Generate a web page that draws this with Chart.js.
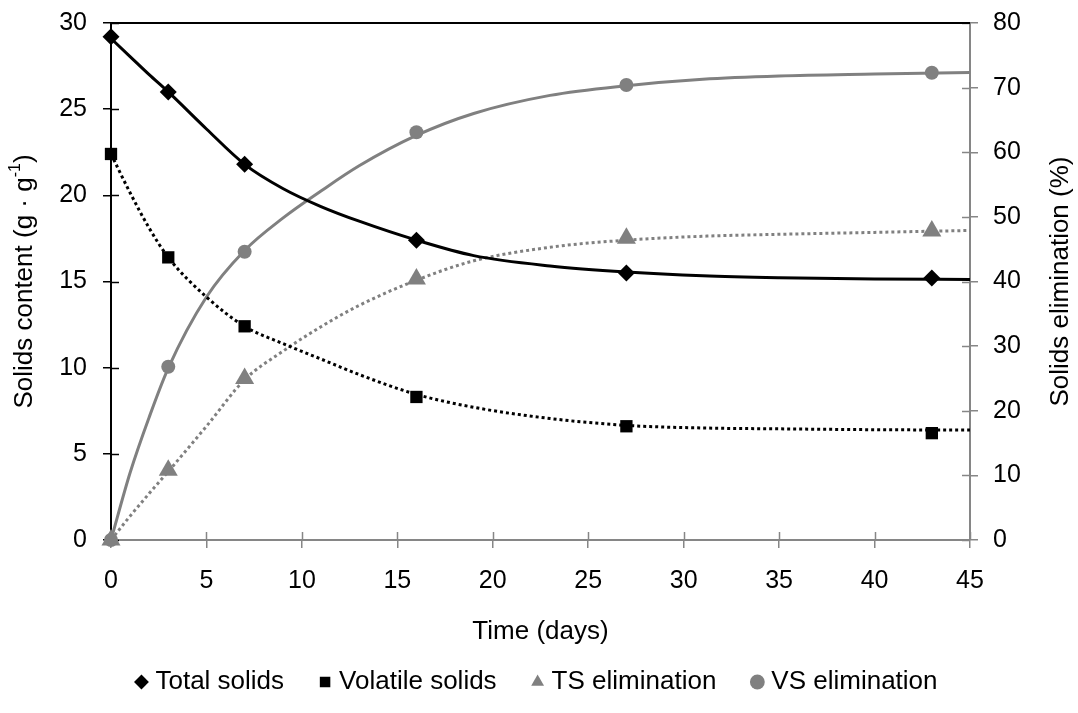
<!DOCTYPE html>
<html>
<head>
<meta charset="utf-8">
<script src="https://cdn.jsdelivr.net/npm/chart.js@4.4.1/dist/chart.umd.min.js"></script>
<style>
  html, body { margin: 0; padding: 0; background: #ffffff; }
  #wrap { width: 1078px; height: 713px; position: relative; }
</style>
</head>
<body>
<div id="wrap"><canvas id="chart" width="1078" height="713"></canvas></div>
<script>
// Measured samples
const days = [0, 3, 7, 16, 27, 43];
const totalSolids = [29.2, 26.0, 21.8, 17.4, 15.5, 15.2];
const volatileSolids = [22.4, 16.4, 12.4, 8.3, 6.6, 6.2];
const tsElimination = [0, 10.8, 25.0, 40.4, 46.7, 47.8];
const vsElimination = [0, 26.8, 44.6, 63.1, 70.4, 72.3];

// Fitted curves, sampled along the time axis
const fitDays = [0, 1, 2, 3, 5, 7, 9, 11, 13, 16, 19, 23, 27, 31, 35, 40, 45];
const totalSolidsFit = [29.1, 28.05, 27.0, 26.0, 23.85, 21.8, 20.4, 19.35, 18.5, 17.4, 16.5, 15.9, 15.55, 15.33, 15.22, 15.15, 15.12];
const volatileSolidsFit = [22.4, 20.15, 18.1, 16.4, 14.1, 12.4, 11.4, 10.5, 9.6, 8.45, 7.7, 7.05, 6.65, 6.5, 6.45, 6.4, 6.38];
const tsEliminationFit = [0, 3.7, 7.2, 10.6, 17.6, 24.8, 29.2, 33.0, 36.3, 40.2, 43.2, 45.3, 46.4, 47.0, 47.3, 47.6, 47.9];
const vsEliminationFit = [0, 10.4, 19.0, 26.6, 37.6, 44.8, 49.8, 54.0, 57.9, 62.6, 66.0, 68.8, 70.3, 71.3, 71.8, 72.1, 72.35];

const seriesNames = ['Total solids', 'Volatile solids', 'TS elimination', 'VS elimination'];
const xTitle = 'Time (days)';
const leftTitle = ['Solids content (g \u00B7 g', '-1', ')'];
const rightTitle = 'Solids elimination (%)';

const BLACK = '#000000';
const GRAY = '#808080';
const AXIS_GRAY = '#868686';
const FONT = "'Liberation Sans', Arial, Helvetica, sans-serif";
const TICK_SIZE = 25;
const TITLE_SIZE = 26;

function pairs(xs, ys) {
  return xs.map((x, i) => ({ x: x, y: ys[i] }));
}

// Tick marks that cross the axis line into the plot, plus the top frame line
const crossTicks = {
  id: 'crossTicks',
  beforeDatasetsDraw(chart) {
    const { ctx, chartArea: a, scales } = chart;
    const len = 8;
    ctx.save();
    ctx.lineWidth = 1.5;
    ctx.strokeStyle = AXIS_GRAY;
    scales.x.ticks.forEach(t => {
      const px = Math.round(scales.x.getPixelForValue(t.value)) + 0.5;
      ctx.beginPath(); ctx.moveTo(px, a.bottom); ctx.lineTo(px, a.bottom - len); ctx.stroke();
    });
    scales.y1.ticks.forEach(t => {
      const py = Math.round(scales.y1.getPixelForValue(t.value)) + 0.5;
      ctx.beginPath(); ctx.moveTo(a.right, py); ctx.lineTo(a.right - len, py); ctx.stroke();
    });
    ctx.strokeStyle = BLACK;
    scales.y.ticks.forEach(t => {
      const py = Math.round(scales.y.getPixelForValue(t.value)) + 0.5;
      ctx.beginPath(); ctx.moveTo(a.left, py); ctx.lineTo(a.left + len, py); ctx.stroke();
    });
    ctx.lineWidth = 2;
    ctx.beginPath(); ctx.moveTo(a.left, a.top); ctx.lineTo(a.right, a.top); ctx.stroke();
    ctx.restore();
  }
};

// Axis titles: horizontal one below the x ticks, vertical ones reading bottom to top
const axisTitles = {
  id: 'axisTitles',
  afterDraw(chart) {
    const { ctx, chartArea: a } = chart;
    const cy = (a.top + a.bottom) / 2;
    const big = TITLE_SIZE + 'px ' + FONT;
    const small = '16px ' + FONT;
    ctx.save();
    ctx.fillStyle = BLACK;
    ctx.textBaseline = 'middle';

    // x title
    ctx.font = big;
    ctx.textAlign = 'center';
    ctx.fillText(xTitle, (a.left + a.right) / 2, 632);

    // left title with superscript
    ctx.textAlign = 'left';
    ctx.font = big; const w0 = ctx.measureText(leftTitle[0]).width; const w2 = ctx.measureText(leftTitle[2]).width;
    ctx.font = small; const w1 = ctx.measureText(leftTitle[1]).width;
    const total = w0 + w1 + w2;
    ctx.save();
    ctx.translate(25, cy);
    ctx.rotate(-Math.PI / 2);
    let x = -total / 2;
    ctx.font = big; ctx.fillText(leftTitle[0], x, 0); x += w0;
    ctx.font = small; ctx.fillText(leftTitle[1], x, -9); x += w1;
    ctx.font = big; ctx.fillText(leftTitle[2], x, 0);
    ctx.restore();

    // right title
    ctx.save();
    ctx.translate(1061, cy);
    ctx.rotate(-Math.PI / 2);
    ctx.font = big;
    ctx.textAlign = 'center';
    ctx.fillText(rightTitle, 0, 0);
    ctx.restore();

    ctx.restore();
  }
};

const tickFont = { family: FONT, size: TICK_SIZE };

function fixWidth(w) {
  return function (s) {
    s.width = w;
    s.paddingTop = 0;
    s.paddingBottom = 0;
  };
}

new Chart(document.getElementById('chart'), {
  type: 'scatter',
  data: {
    datasets: [
      { label: seriesNames[0], data: pairs(days, totalSolids), yAxisID: 'y', clip: false,
        pointStyle: 'rectRot', pointRadius: 8.5, pointHoverRadius: 8.5,
        backgroundColor: BLACK, borderColor: BLACK, borderWidth: 0 },
      { label: seriesNames[1], data: pairs(days, volatileSolids), yAxisID: 'y', clip: false,
        pointStyle: 'rect', pointRadius: 8.7, pointHoverRadius: 8.7,
        backgroundColor: BLACK, borderColor: BLACK, borderWidth: 0 },
      { label: seriesNames[2], data: pairs(days, tsElimination), yAxisID: 'y1', clip: false,
        pointStyle: 'triangle', pointRadius: 11, pointHoverRadius: 11,
        backgroundColor: GRAY, borderColor: GRAY, borderWidth: 0 },
      { label: seriesNames[3], data: pairs(days, vsElimination), yAxisID: 'y1', clip: false,
        pointStyle: 'circle', pointRadius: 7, pointHoverRadius: 7,
        backgroundColor: GRAY, borderColor: GRAY, borderWidth: 0 },

      { label: 'fit-ts', data: pairs(fitDays, totalSolidsFit), yAxisID: 'y', clip: false,
        showLine: true, pointRadius: 0, borderColor: BLACK, borderWidth: 3,
        cubicInterpolationMode: 'monotone', fill: false },
      { label: 'fit-vs', data: pairs(fitDays, volatileSolidsFit), yAxisID: 'y', clip: false,
        showLine: true, pointRadius: 0, borderColor: BLACK, borderWidth: 3,
        borderDash: [3, 3], cubicInterpolationMode: 'monotone', fill: false },
      { label: 'fit-tse', data: pairs(fitDays, tsEliminationFit), yAxisID: 'y1', clip: false,
        showLine: true, pointRadius: 0, borderColor: GRAY, borderWidth: 3,
        borderDash: [3, 3], cubicInterpolationMode: 'monotone', fill: false },
      { label: 'fit-vse', data: pairs(fitDays, vsEliminationFit), yAxisID: 'y1', clip: false,
        showLine: true, pointRadius: 0, borderColor: GRAY, borderWidth: 3,
        cubicInterpolationMode: 'monotone', fill: false }
    ]
  },
  options: {
    responsive: false,
    animation: false,
    events: [],
    layout: { padding: { top: 23, bottom: 8, left: 0, right: 0 } },
    plugins: {
      tooltip: { enabled: false },
      legend: {
        position: 'bottom',
        labels: {
          usePointStyle: true,
          boxWidth: 2,
          boxHeight: 10.5,
          padding: 40,
          color: BLACK,
          font: { family: FONT, size: 26 },
          filter: item => item.datasetIndex < 4
        }
      }
    },
    scales: {
      x: {
        type: 'linear', position: 'bottom', min: 0, max: 45,
        ticks: { stepSize: 5, color: BLACK, font: tickFont, padding: 18, maxRotation: 0 },
        grid: { display: true, drawOnChartArea: false, drawTicks: true, tickLength: 8, color: AXIS_GRAY, lineWidth: 1.5 },
        border: { display: true, color: AXIS_GRAY, width: 2 },
        afterFit(s) { s.height = 89; }
      },
      y: {
        type: 'linear', position: 'left', min: 0, max: 30,
        ticks: { stepSize: 5, color: BLACK, font: tickFont, padding: 16 },
        grid: { display: true, drawOnChartArea: false, drawTicks: true, tickLength: 8, color: BLACK, lineWidth: 1.5 },
        border: { display: true, color: BLACK, width: 2 },
        afterFit: fixWidth(111)
      },
      y1: {
        type: 'linear', position: 'right', min: 0, max: 80,
        ticks: { stepSize: 10, color: BLACK, font: tickFont, padding: 15 },
        grid: { display: true, drawOnChartArea: false, drawTicks: true, tickLength: 8, color: AXIS_GRAY, lineWidth: 1.5 },
        border: { display: true, color: AXIS_GRAY, width: 2 },
        afterFit: fixWidth(108)
      }
    }
  },
  plugins: [crossTicks, axisTitles]
});
</script>
</body>
</html>
